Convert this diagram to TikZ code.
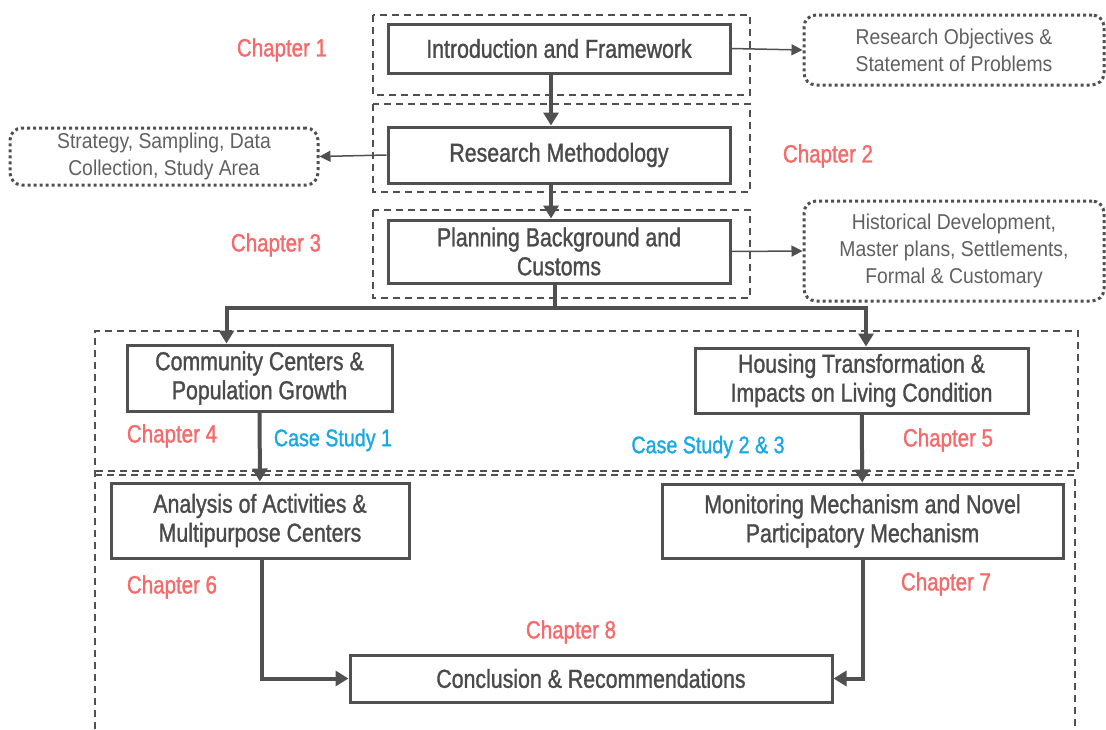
\documentclass[tikz,border=0pt]{standalone}
\usepackage{fontspec}
\setmainfont{Liberation Sans}
\newfontfamily\boxfont[FakeStretch=0.82,FakeBold=1.2]{Liberation Sans}
\newfontfamily\notefont[FakeStretch=0.9]{Liberation Sans}
\usetikzlibrary{arrows.meta}
\definecolor{linegray}{HTML}{505050}
\definecolor{textgray}{HTML}{4A4A4A}
\definecolor{notegray}{HTML}{606060}
\definecolor{chapred}{HTML}{F56A6A}
\definecolor{caseblue}{HTML}{18A8E6}

\begin{document}
\begin{tikzpicture}[x=1pt, y=-1pt,
    stage/.style={draw=linegray, line width=3pt, text=textgray, align=center,
      inner sep=0pt, font=\boxfont\fontsize{26}{29}\selectfont},
    note/.style={draw=linegray, line width=3pt, dash pattern=on 3pt off 3pt,
      rounded corners=12pt, text=notegray, align=center, inner sep=0pt,
      font=\notefont\fontsize{21.5}{27}\selectfont},
    frame/.style={draw=linegray, line width=1.2pt, dash pattern=on 7pt off 5pt},
    chap/.style={text=chapred, font=\boxfont\fontsize{25}{29}\selectfont},
    case/.style={text=caseblue, font=\boxfont\fontsize{24}{28}\selectfont},
    flow/.style={draw=linegray, line width=4pt, -{Triangle[length=13pt,width=15pt]}},
    side/.style={draw=linegray, line width=1.5pt, -{Triangle[length=11pt,width=11pt]}}]
    \useasboundingbox (0,0) rectangle (1106,729);

    % dashed frames
    \draw[frame] (373,15) rectangle (750,95);
    \draw[frame] (373,104) rectangle (750,192);
    \draw[frame] (373,210) rectangle (750,298);
    \draw[frame] (95,729) -- (95,331) -- (1078,331) -- (1078,471) -- (95,471);
    \draw[frame] (95,475) -- (1075,475) -- (1075,729);

    % main boxes
    \node[stage, minimum width=342pt, minimum height=49pt] (intro) at (559,48.5) {Introduction and Framework};
    \node[stage, minimum width=342pt, minimum height=56pt] (method) at (559,155) {Research Methodology};
    \node[stage, minimum width=342pt, minimum height=63pt] (plan) at (559,251.5) {Planning Background and\\Customs};
    \node[stage, minimum width=265pt, minimum height=66pt] (community) at (259.5,378) {Community Centers \&\\Population Growth};
    \node[stage, minimum width=333pt, minimum height=65pt] (housing) at (861.5,380.5) {Housing Transformation \&\\Impacts on Living Condition};
    \node[stage, minimum width=298pt, minimum height=75pt] (analysis) at (260,520.5) {Analysis of Activities \&\\Multipurpose Centers};
    \node[stage, minimum width=401pt, minimum height=74pt] (monitor) at (862.5,521) {Monitoring Mechanism and Novel\\Participatory Mechanism};
    \node[stage, minimum width=482pt, minimum height=47pt] (concl) at (591,678.5) {Conclusion \& Recommendations};

    % side notes
    \node[note, minimum width=300pt, minimum height=70pt] (objectives) at (954,50) {Research Objectives \&\\Statement of Problems};
    \node[note, minimum width=308pt, minimum height=57pt] (strategy) at (164,156.5) {Strategy, Sampling, Data\\Collection, Study Area};
    \node[note, minimum width=300pt, minimum height=100pt] (history) at (954,251) {Historical Development,\\Master plans, Settlements,\\Formal \& Customary};

    % labels
    \node[chap] (ch1) at (282,50) {Chapter 1};
    \node[chap] (ch2) at (828,156) {Chapter 2};
    \node[chap] (ch3) at (276,245) {Chapter 3};
    \node[chap] (ch4) at (172,436) {Chapter 4};
    \node[case] (cs1) at (333,440) {Case Study 1};
    \node[case] (cs23) at (708,447) {Case Study 2 \& 3};
    \node[chap] (ch5) at (948,440) {Chapter 5};
    \node[chap] (ch6) at (172,587) {Chapter 6};
    \node[chap] (ch7) at (946,584) {Chapter 7};
    \node[chap] (ch8) at (571,632) {Chapter 8};

    % connectors
    \coordinate (split) at (555,308);
    \draw[flow] ([xshift=-8pt]intro.south) -- ([xshift=-8pt]method.north);
    \draw[flow] ([xshift=-8pt]method.south) -- ([xshift=-8pt]plan.north);
    \draw[draw=linegray, line width=4pt] ([xshift=-4pt]plan.south) -- (split);
    \draw[flow] (split) -| ([xshift=-33pt]community.north);
    \draw[flow] (split) -| ([xshift=4.5pt]housing.north);
    \draw[flow] (community) -- (analysis);
    \draw[flow] (housing) -- (monitor);
    \draw[flow] ([xshift=2pt]analysis.south) |- (concl.west);
    \draw[flow] (monitor.south) |- (concl.east);
    \draw[side] (intro.east) -- (objectives.west);
    \draw[side] (method.west) -- (strategy.east);
    \draw[side] (plan.east) -- (history.west);
\end{tikzpicture}
\end{document}
